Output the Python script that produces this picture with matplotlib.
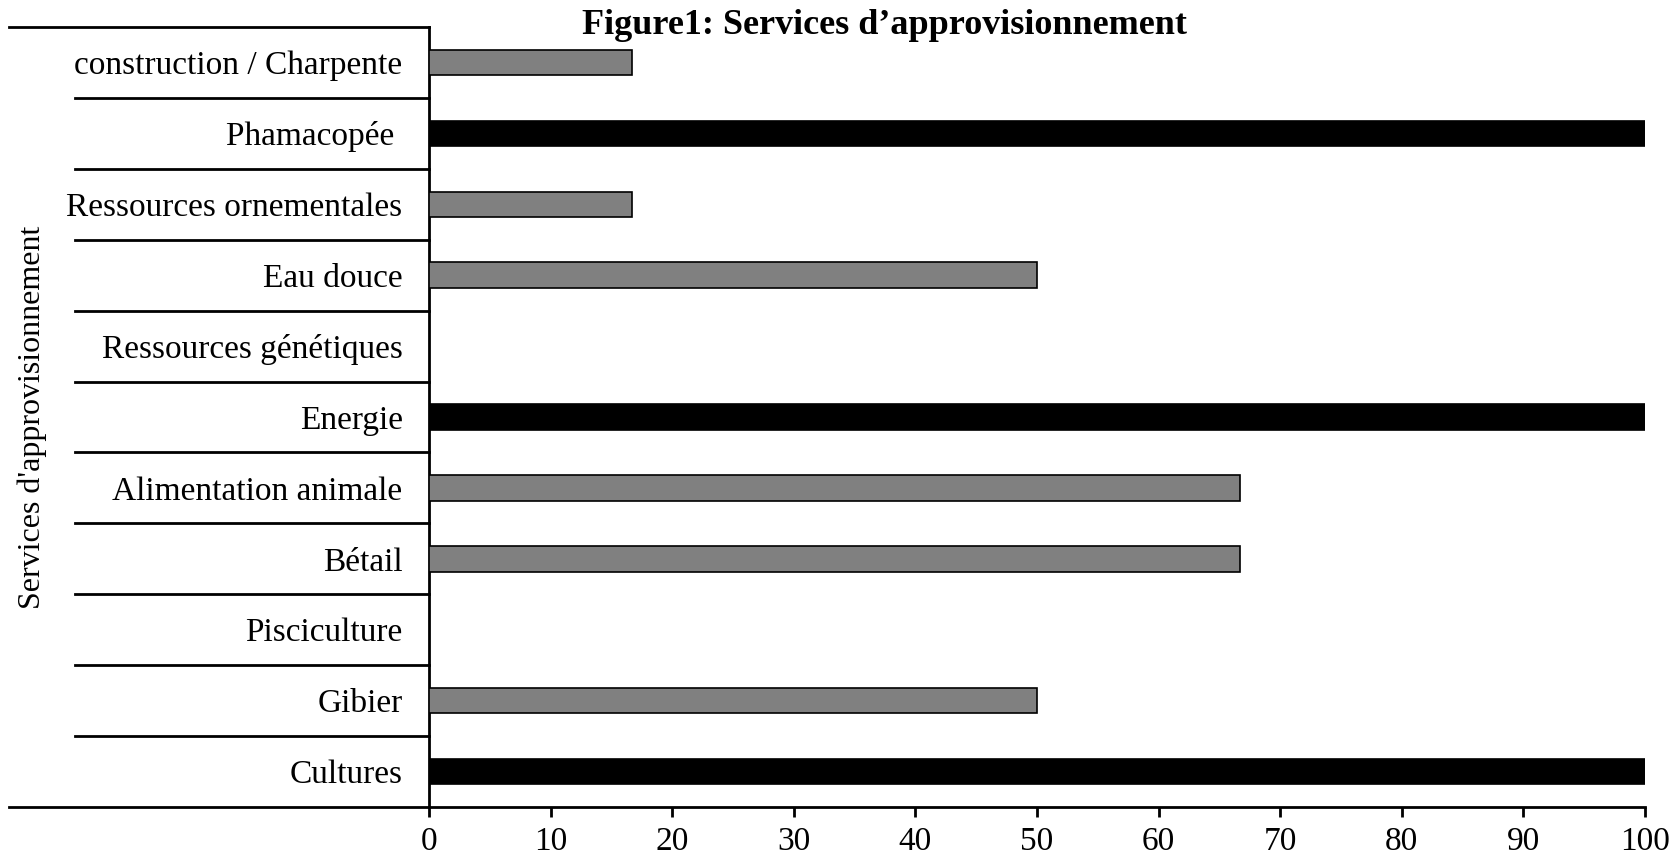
import matplotlib
matplotlib.use("Agg")
import matplotlib.pyplot as plt
import matplotlib.transforms as mtransforms

categories = ["Cultures", "Gibier", "Pisciculture", "Bétail", "Alimentation animale",
              "Energie", "Ressources génétiques", "Eau douce", "Ressources ornementales",
              "Phamacopée ", "construction / Charpente"]
values = [100, 50, 0, 66.67, 66.67, 100, 0, 50, 16.67, 100, 16.67]
bar_colors = ["#000000", "#808080", "#808080", "#808080", "#808080", "#000000",
              "#808080", "#808080", "#808080", "#000000", "#808080"]
xticks = list(range(0, 101, 10))
title = "Figure1: Services d\u2019approvisionnement"
ylabel = "Services d'approvisionnement"

plt.rcParams['font.family'] = ['Liberation Serif', 'DejaVu Serif']
fs = 24

fig = plt.figure(figsize=(16.81, 8.61), dpi=100)
L, R, T, B = 429, 1645, 27, 807
ax = fig.add_axes([L/1681, 1-B/861, (R-L)/1681, (B-T)/861])

ypos = list(range(len(categories)))
ax.barh(ypos, values, height=0.36, color=bar_colors, edgecolor="black", linewidth=1.2, zorder=3)

ax.set_xlim(0, 100)
ax.set_ylim(-0.5, len(categories) - 0.5)
ax.set_xticks(xticks)
ax.set_xticklabels([str(t) for t in xticks], fontsize=fs)
ax.set_yticks(ypos)
ax.set_yticklabels(categories, fontsize=fs)
ax.tick_params(axis='y', length=0, pad=19)
ax.tick_params(axis='x', direction='out', length=7, width=2, pad=7)

for s in ['top', 'right']:
    ax.spines[s].set_visible(False)
ax.spines['left'].set_linewidth(2)
ax.spines['bottom'].set_linewidth(2)

trans = mtransforms.blended_transform_factory(ax.transAxes, ax.transData)
n = len(categories)
W = R - L
for k in range(n + 1):
    yb = k - 0.5
    x0 = (9 - L) / W if k in (0, n) else (75 - L) / W
    ax.plot([x0, 0], [yb, yb], color="black", lw=2, transform=trans, clip_on=False, zorder=4)

fig.text(885/1681, 1-26/861, title, fontsize=26, fontweight='bold', ha='center', va='center')
fig.text(32/1681, 1-417/861, ylabel, fontsize=23, rotation=90, ha='center', va='center')

fig.savefig("out.png", dpi=100)
